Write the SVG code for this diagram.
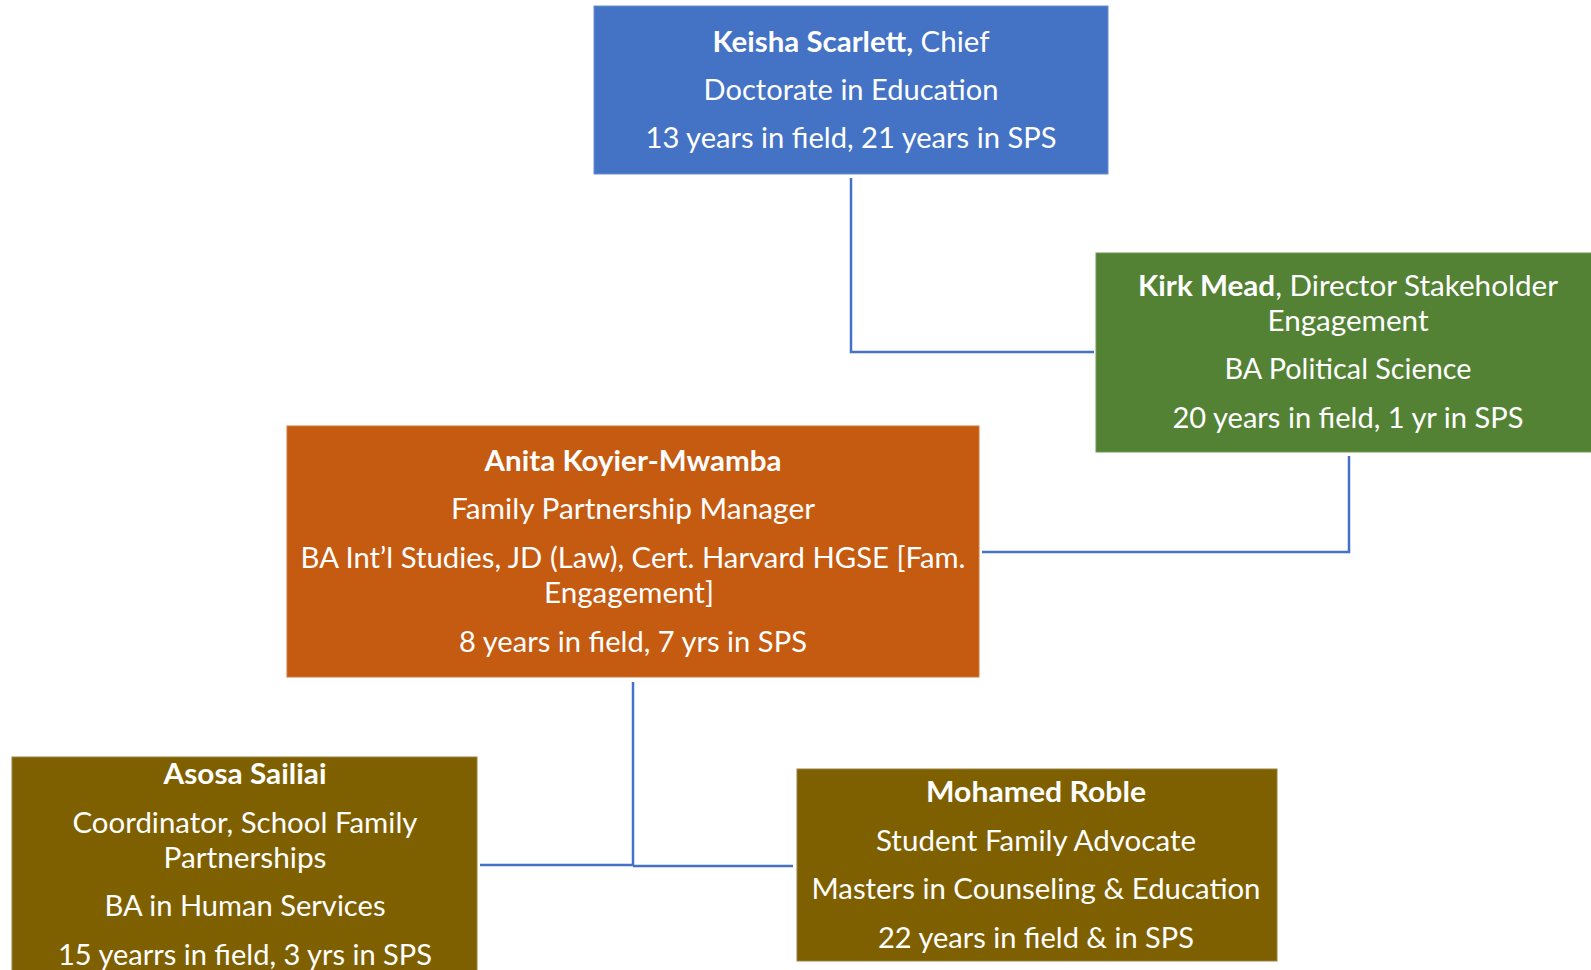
<svg xmlns="http://www.w3.org/2000/svg" width="1591" height="970" viewBox="0 0 1591 970">
<style>
.t{font-family:Lato,"Open Sans","Liberation Sans",sans-serif;font-size:28px;fill:#ffffff;text-anchor:middle}
.b{font-weight:bold}
.c{fill:none;stroke:#4472C4;stroke-width:2.5}
</style>
<rect width="1591" height="970" fill="#ffffff"/>
<g id="connectors">
<polyline class="c" points="851,178 851,352 1094,352"/>
<polyline class="c" points="1349,456 1349,552 982,552"/>
<polyline class="c" points="633,682 633,866"/>
<polyline class="c" points="480,865 633,865"/>
<polyline class="c" points="633,866 793,866"/>
</g>
<g id="keisha">
<rect x="594" y="6" width="514" height="168" fill="#4472C4" stroke="#6a8fd2" stroke-width="1"/>
<text class="t" x="851" y="52" textLength="277" lengthAdjust="spacingAndGlyphs"><tspan class="b">Keisha Scarlett,</tspan> Chief</text>
<text class="t" x="851" y="100" textLength="295" lengthAdjust="spacingAndGlyphs">Doctorate in Education</text>
<text class="t" x="851" y="148" textLength="411" lengthAdjust="spacingAndGlyphs">13 years in field, 21 years in SPS</text>
</g>
<g id="kirk">
<rect x="1096" y="253" width="500" height="199" fill="#548235" stroke="#6f9a52" stroke-width="1"/>
<text class="t" x="1348" y="296" textLength="420" lengthAdjust="spacingAndGlyphs"><tspan class="b">Kirk Mead</tspan>, Director Stakeholder</text>
<text class="t" x="1348" y="331" textLength="161" lengthAdjust="spacingAndGlyphs">Engagement</text>
<text class="t" x="1348" y="379" textLength="247" lengthAdjust="spacingAndGlyphs">BA Political Science</text>
<text class="t" x="1348" y="428" textLength="351" lengthAdjust="spacingAndGlyphs">20 years in field, 1 yr in SPS</text>
</g>
<g id="anita">
<rect x="287" y="426" width="692" height="251" fill="#C55A11" stroke="#d4783c" stroke-width="1"/>
<text class="t b" x="633" y="471" textLength="297" lengthAdjust="spacingAndGlyphs">Anita Koyier-Mwamba</text>
<text class="t" x="633" y="519" textLength="364" lengthAdjust="spacingAndGlyphs">Family Partnership Manager</text>
<text class="t" x="633" y="568" textLength="665" lengthAdjust="spacingAndGlyphs">BA Int’l Studies, JD (Law), Cert. Harvard HGSE [Fam.</text>
<text class="t" x="629" y="603" textLength="170" lengthAdjust="spacingAndGlyphs">Engagement]</text>
<text class="t" x="633" y="652" textLength="348" lengthAdjust="spacingAndGlyphs">8 years in field, 7 yrs in SPS</text>
</g>
<g id="asosa">
<rect x="12" y="757" width="465" height="220" fill="#7F6000" stroke="#9a8140" stroke-width="1"/>
<text class="t b" x="245" y="784" textLength="163" lengthAdjust="spacingAndGlyphs">Asosa Sailiai</text>
<text class="t" x="245" y="833" textLength="345" lengthAdjust="spacingAndGlyphs">Coordinator, School Family</text>
<text class="t" x="245" y="868" textLength="163" lengthAdjust="spacingAndGlyphs">Partnerships</text>
<text class="t" x="245" y="916" textLength="281" lengthAdjust="spacingAndGlyphs">BA in Human Services</text>
<text class="t" x="245" y="965" textLength="374" lengthAdjust="spacingAndGlyphs">15 yearrs in field, 3 yrs in SPS</text>
</g>
<g id="mohamed">
<rect x="797" y="769" width="480" height="192" fill="#7F6000" stroke="#9a8140" stroke-width="1"/>
<text class="t b" x="1036" y="802" textLength="220" lengthAdjust="spacingAndGlyphs">Mohamed Roble</text>
<text class="t" x="1036" y="851" textLength="320" lengthAdjust="spacingAndGlyphs">Student Family Advocate</text>
<text class="t" x="1036" y="899" textLength="449" lengthAdjust="spacingAndGlyphs">Masters in Counseling &amp; Education</text>
<text class="t" x="1036" y="948" textLength="316" lengthAdjust="spacingAndGlyphs">22 years in field &amp; in SPS</text>
</g>
</svg>
